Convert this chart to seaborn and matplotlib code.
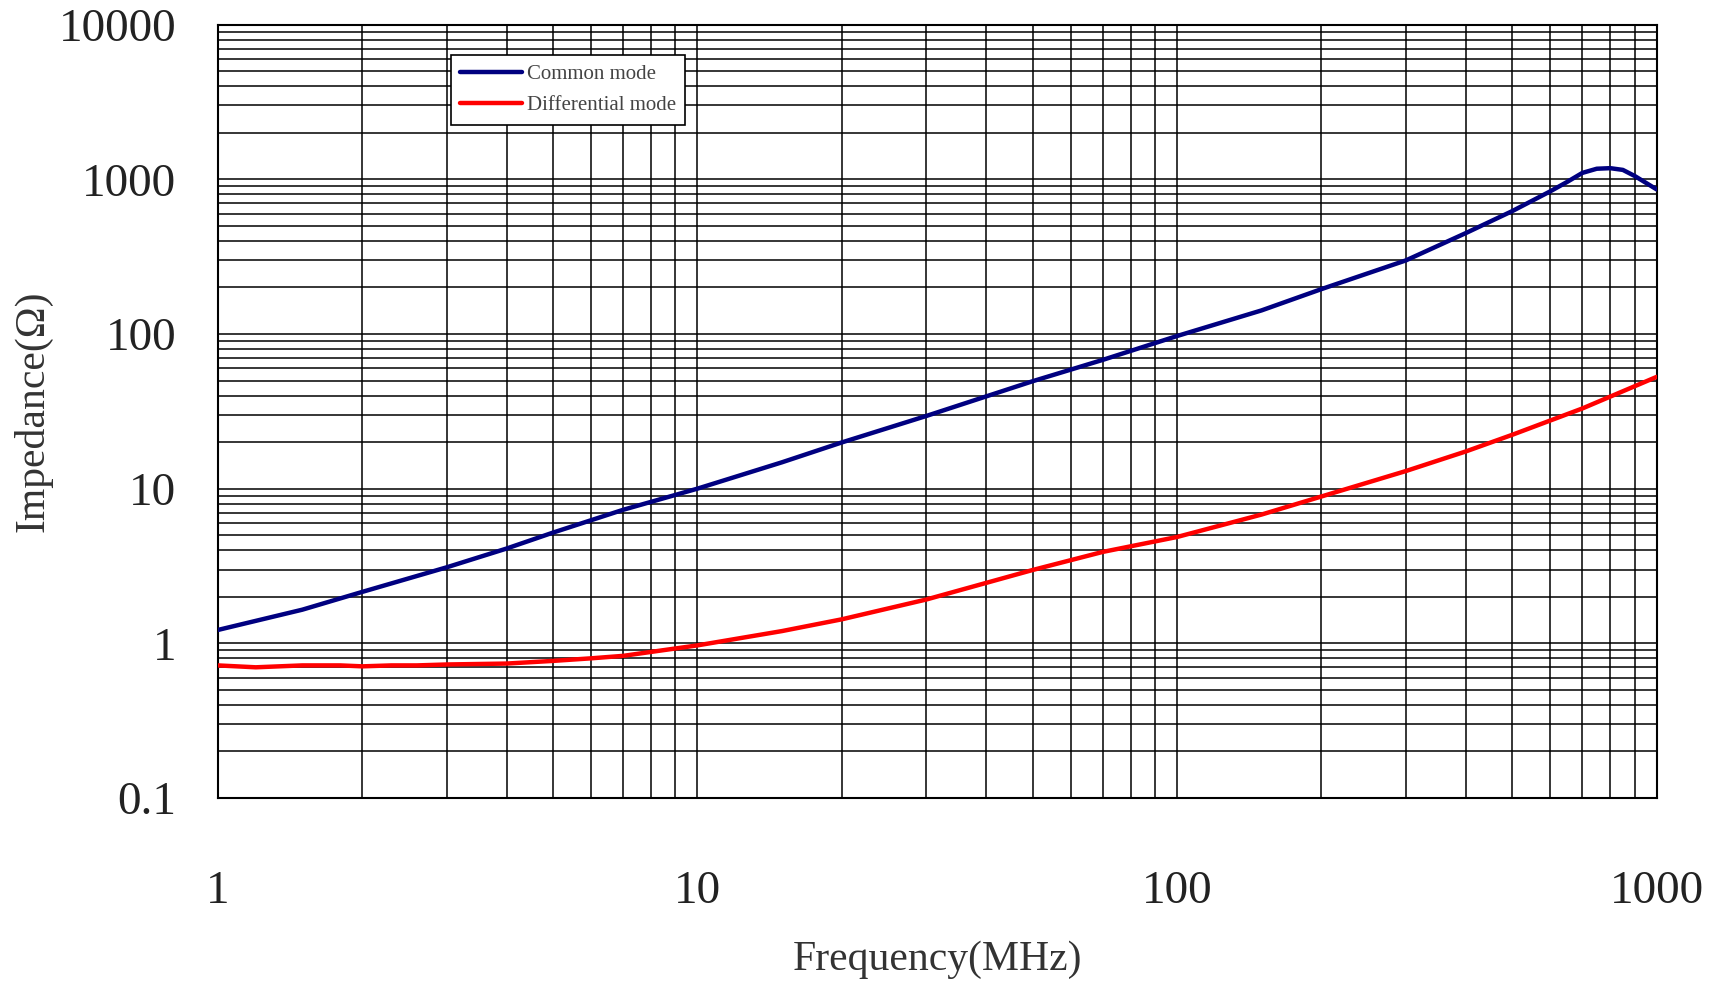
import numpy as np
import pandas as pd
import matplotlib
matplotlib.use("Agg")
import matplotlib.pyplot as plt
import matplotlib.ticker as mticker
import seaborn as sns

# Data
freq_common = [1, 1.5, 2, 3, 4, 5, 7, 10, 15, 20, 30, 50, 70, 100, 150, 200, 300, 400, 500, 600, 650, 700, 750, 800, 850, 900, 1000]
z_common = [1.22, 1.65, 2.15, 3.1, 4.1, 5.2, 7.3, 10.0, 14.8, 19.9, 29.5, 49.5, 68, 97, 142, 195, 299, 449, 623, 836, 960, 1100, 1170, 1180, 1150, 1050, 860]

freq_diff = [1, 1.2, 1.5, 1.8, 2, 2.3, 2.6, 3, 4, 5, 6, 7, 8, 10, 15, 20, 30, 50, 70, 100, 150, 200, 300, 400, 500, 700, 1000]
z_diff = [0.72, 0.70, 0.72, 0.72, 0.71, 0.72, 0.72, 0.73, 0.74, 0.77, 0.80, 0.83, 0.88, 0.97, 1.2, 1.43, 1.92, 2.98, 3.9, 4.87, 6.8, 8.9, 13.0, 17.4, 22.3, 33.0, 52.8]

series_names = ["Common mode", "Differential mode"]
series_colors = ["#000080", "#ff0000"]

df = pd.concat([
    pd.DataFrame({"Frequency": freq_common, "Impedance": z_common, "Series": series_names[0]}),
    pd.DataFrame({"Frequency": freq_diff, "Impedance": z_diff, "Series": series_names[1]}),
])

sns.set_style("white")
plt.rcParams["font.family"] = ["Liberation Serif", "DejaVu Serif"]

fig = plt.figure(figsize=(17.15, 9.84), dpi=100)
ax = fig.add_axes([0.127, 0.189, 0.839, 0.786])

sns.lineplot(data=df, x="Frequency", y="Impedance", hue="Series",
             palette=dict(zip(series_names, series_colors)), linewidth=3.2,
             ax=ax, sort=True, estimator=None, zorder=5)

ax.set_xscale("log")
ax.set_yscale("log")
ax.set_xlim(1, 1000)
ax.set_ylim(0.1, 10000)

ax.xaxis.set_major_locator(mticker.LogLocator(base=10, numticks=10))
ax.xaxis.set_minor_locator(mticker.LogLocator(base=10, subs=np.arange(2, 10), numticks=100))
ax.yaxis.set_major_locator(mticker.LogLocator(base=10, numticks=10))
ax.yaxis.set_minor_locator(mticker.LogLocator(base=10, subs=np.arange(2, 10), numticks=100))
ax.xaxis.set_major_formatter(mticker.FuncFormatter(lambda v, p: f"{v:g}"))
ax.yaxis.set_major_formatter(mticker.FuncFormatter(lambda v, p: f"{v:g}"))
ax.xaxis.set_minor_formatter(mticker.NullFormatter())
ax.yaxis.set_minor_formatter(mticker.NullFormatter())

ax.grid(True, which="both", color="black", linewidth=1.1)
ax.tick_params(which="both", length=0)
ax.tick_params(axis="x", labelsize=34, pad=52, colors="#222222")
ax.tick_params(axis="y", labelsize=34, pad=30, colors="#222222")
for s in ax.spines.values():
    s.set_color("black")
    s.set_linewidth(1.5)

ax.set_xlabel("Frequency(MHz)", fontsize=30, color="#333333", labelpad=20)
ax.set_ylabel("Impedance(Ω)", fontsize=30, color="#333333", labelpad=4)

leg = ax.legend(loc="upper left", bbox_to_anchor=(0.1545, 0.974), fontsize=15,
                frameon=True, fancybox=False, edgecolor="black", framealpha=1,
                handlelength=3.0, borderpad=0.45, labelspacing=0.55, handletextpad=0.2)
leg.get_frame().set_linewidth(1.2)
leg.set_zorder(10)
for t in leg.get_texts():
    t.set_color("#444444")

fig.savefig("out.png", dpi=100, facecolor="white")
